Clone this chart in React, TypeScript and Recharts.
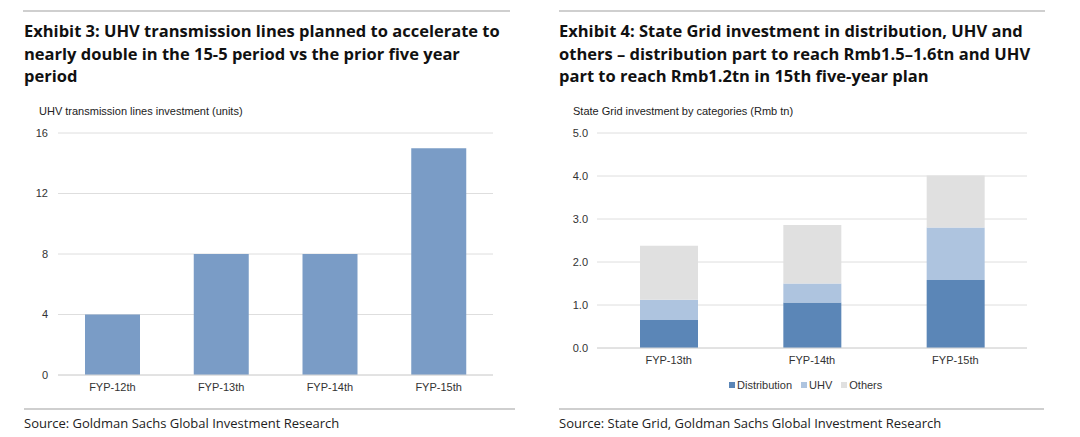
import React from "react";
import { BarChart, Bar, XAxis, YAxis, CartesianGrid } from "recharts";

// Exhibit 3 data
const periodsLeft = ["FYP-12th", "FYP-13th", "FYP-14th", "FYP-15th"];
const uhvLines = [4, 8, 8, 15];
const leftTicks = [0, 4, 8, 12, 16];

// Exhibit 4 data
const periodsRight = ["FYP-13th", "FYP-14th", "FYP-15th"];
const distribution = [0.65, 1.06, 1.58];
const uhv = [0.47, 0.44, 1.22];
const others = [1.26, 1.36, 1.21];
const rightTicks = [0, 1, 2, 3, 4, 5];

const seriesRight = [
  { key: "distribution", name: "Distribution", color: "#5b86b7" },
  { key: "uhv", name: "UHV", color: "#aec4df" },
  { key: "others", name: "Others", color: "#e0e0e0" },
];

const leftData = periodsLeft.map((p, i) => ({ period: p, lines: uhvLines[i] }));
const rightData = periodsRight.map((p, i) => ({
  period: p,
  distribution: distribution[i],
  uhv: uhv[i],
  others: others[i],
}));

const titleFont = "'Open Sans', 'Noto Sans', sans-serif";
const axisFont = "'Liberation Sans', Arial, sans-serif";
const tickStyle = { fontFamily: axisFont, fontSize: 11, fill: "#333" };

const abs = (left: number, top: number): React.CSSProperties => ({ position: "absolute", left, top });

function Title({ x, lines }: { x: number; lines: string[] }) {
  return (
    <div style={{ ...abs(x, 20), fontFamily: titleFont, fontWeight: 700, fontSize: 16.5, lineHeight: "22.5px", color: "#111", whiteSpace: "nowrap" }}>
      {lines.map((l) => (
        <div key={l}>{l}</div>
      ))}
    </div>
  );
}

function Rule({ x, y, w }: { x: number; y: number; w: number }) {
  return <div style={{ ...abs(x, y), width: w, height: 2, background: "#cfcfcf" }} />;
}

export default function App() {
  return (
    <div style={{ position: "absolute", left: 0, top: 0, width: 1080, height: 437, background: "#fff", overflow: "hidden" }}>
      <Rule x={23} y={10} w={487} />
      <Rule x={559} y={10} w={486} />
      <Title
        x={24}
        lines={[
          "Exhibit 3: UHV transmission lines planned to accelerate to",
          "nearly double in the 15-5 period vs the prior five year",
          "period",
        ]}
      />
      <Title
        x={559}
        lines={[
          "Exhibit 4: State Grid investment in distribution, UHV and",
          "others \u2013 distribution part to reach Rmb1.5\u20131.6tn and UHV",
          "part to reach Rmb1.2tn in 15th five-year plan",
        ]}
      />

      <div style={{ ...abs(39, 105), fontFamily: axisFont, fontSize: 11, color: "#222", whiteSpace: "nowrap" }}>
        UHV transmission lines investment (units)
      </div>
      <div style={{ ...abs(573, 105), fontFamily: axisFont, fontSize: 11, color: "#222", whiteSpace: "nowrap" }}>
        State Grid investment by categories (Rmb tn)
      </div>

      <div style={abs(0, 120)}>
        <BarChart width={520} height={290} data={leftData} margin={{ top: 13, right: 27, bottom: 5, left: 0 }}>
          <CartesianGrid vertical={false} stroke="#dedede" />
          <XAxis dataKey="period" height={30} tickLine={false} axisLine={{ stroke: "#d6d6d6" }} tick={tickStyle} />
          <YAxis width={58} domain={[0, 16]} ticks={leftTicks} tickLine={false} axisLine={false} tickSize={0} tickMargin={10} tick={tickStyle} />
          <Bar dataKey="lines" fill="#7a9cc6" barSize={55} isAnimationActive={false} />
        </BarChart>
      </div>

      <div style={abs(540, 120)}>
        <BarChart width={520} height={290} data={rightData} margin={{ top: 13, right: 33, bottom: 32, left: 0 }}>
          <CartesianGrid vertical={false} stroke="#dedede" />
          <XAxis dataKey="period" height={30} tickLine={false} axisLine={{ stroke: "#d6d6d6" }} tick={tickStyle} />
          <YAxis
            width={57}
            domain={[0, 5]}
            ticks={rightTicks}
            tickFormatter={(v: number) => v.toFixed(1)}
            tickLine={false}
            axisLine={false}
            tickSize={0}
            tickMargin={9}
            tick={tickStyle}
          />
          {seriesRight.map((s) => (
            <Bar key={s.key} dataKey={s.key} name={s.name} stackId="a" fill={s.color} barSize={58} isAnimationActive={false} />
          ))}
        </BarChart>
      </div>

      <div style={{ ...abs(729, 379), display: "flex", alignItems: "center", fontFamily: axisFont, fontSize: 11, color: "#333", whiteSpace: "nowrap" }}>
        {seriesRight.map((s) => (
          <div key={s.key} style={{ display: "flex", alignItems: "center", marginRight: 9 }}>
            <span style={{ display: "inline-block", width: 6, height: 6, background: s.color, marginRight: 2 }} />
            {s.name}
          </div>
        ))}
      </div>

      <Rule x={24} y={408} w={491} />
      <Rule x={559} y={408} w={485} />
      <div style={{ ...abs(24, 414), fontFamily: titleFont, fontSize: 13, color: "#222", whiteSpace: "nowrap" }}>
        Source: Goldman Sachs Global Investment Research
      </div>
      <div style={{ ...abs(559, 414), fontFamily: titleFont, fontSize: 13, color: "#222", whiteSpace: "nowrap" }}>
        Source: State Grid, Goldman Sachs Global Investment Research
      </div>
    </div>
  );
}
